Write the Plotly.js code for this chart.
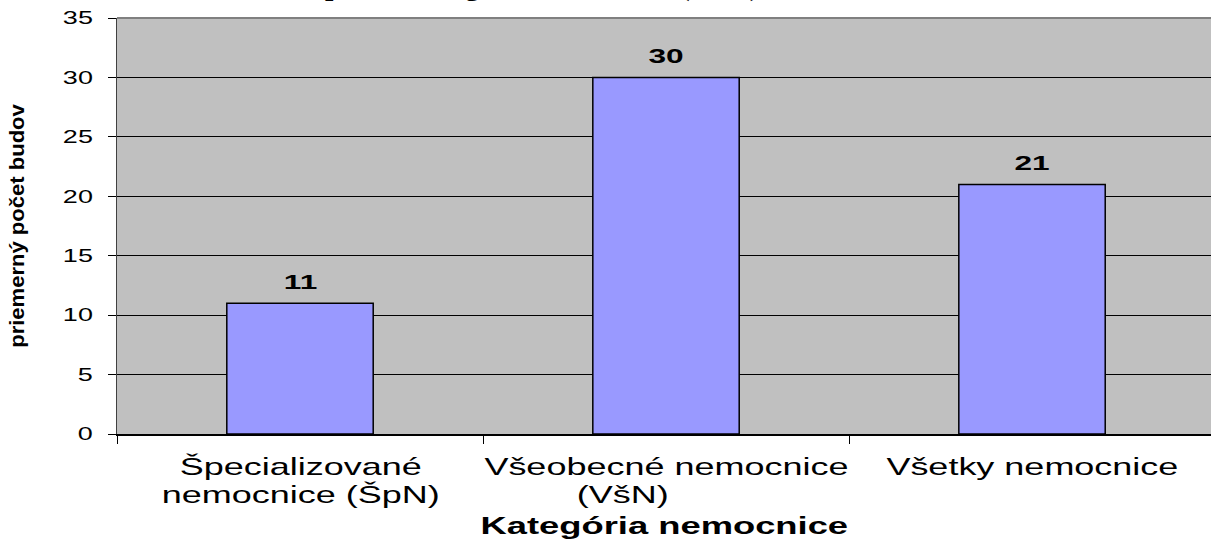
<!DOCTYPE html>
<html><head><meta charset="utf-8">
<script src="https://cdn.plot.ly/plotly-3.0.1.min.js"></script>
<style>html,body{margin:0;padding:0;background:#fff}#chart{width:1211px;height:542px}</style>
</head><body><div id="chart"></div>
<script>
const categories = ["Špecializované nemocnice (ŠpN)", "Všeobecné nemocnice (VšN)", "Všetky nemocnice"];
const tickLines1 = ["Špecializované", "Všeobecné nemocnice", "Všetky nemocnice"];
const tickLines2 = ["nemocnice (ŠpN)", "(VšN)", ""];
const values = [11, 30, 21];
const chartTitle = "Počet budov podľa kategórie nemocnice (2005)";
const xTitle = "Kategória nemocnice";
const yTitle = "priemerný počet budov";

const SANS = "Liberation Sans, Arial, sans-serif";
const STRETCH = 1.5, STRETCH_BOLD = 1.58;

const trace = {
  type: "bar",
  x: categories,
  y: values,
  width: 0.4,
  marker: {color: "#9999FF", line: {color: "#000000", width: 1.5}},
  hoverinfo: "none"
};

const annotations = [];
const stretchMap = [];
values.forEach((v, i) => {
  annotations.push({
    x: categories[i], y: v, xref: "x", yref: "y",
    text: "<b>" + v + "</b>", showarrow: false,
    yanchor: "bottom", yshift: 8,
    font: {family: SANS, size: 20, color: "#000"}
  });
  stretchMap.push(STRETCH_BOLD);
  annotations.push({
    x: categories[i], y: 0, xref: "x", yref: "paper",
    text: tickLines1[i], showarrow: false,
    yanchor: "top", yshift: -17,
    font: {family: SANS, size: 24, color: "#000"}
  });
  stretchMap.push(STRETCH);
  if (tickLines2[i]) {
    annotations.push({
      x: categories[i], y: 0, xref: "x", yref: "paper",
      text: tickLines2[i], showarrow: false,
      yanchor: "top", yshift: -45, xshift: (i === 1 ? -44 : 0),
      font: {family: SANS, size: 24, color: "#000"}
    });
    stretchMap.push(STRETCH);
  }
});
annotations.push({
  x: 0.5, y: 0, xref: "paper", yref: "paper",
  text: "<b>" + xTitle + "</b>", showarrow: false,
  yanchor: "top", yshift: -77,
  font: {family: SANS, size: 23, color: "#000"}
});
stretchMap.push(STRETCH_BOLD);
annotations.push({
  x: 0.59, y: 1, xref: "paper", yref: "paper", xanchor: "right", yanchor: "bottom",
  yshift: 14, text: "<b>" + chartTitle + "</b>", showarrow: false,
  font: {family: "Liberation Serif, Times New Roman, serif", size: 30, color: "#000"}
});
stretchMap.push(1);

const layout = {
  width: 1211, height: 542,
  margin: {l: 117, r: 0, t: 18, b: 108, pad: 0},
  paper_bgcolor: "#ffffff",
  plot_bgcolor: "#C0C0C0",
  showlegend: false,
  bargap: 0.6,
  xaxis: {
    type: "category",
    range: [-0.5, 2.489],
    showticklabels: false,
    ticks: "outside", ticklen: 8, tickcolor: "#000", tickwidth: 1,
    tickson: "boundaries",
    showgrid: false, zeroline: false,
    showline: true, linecolor: "#000", linewidth: 1.5,
    automargin: false, fixedrange: true
  },
  yaxis: {
    range: [0, 35], dtick: 5, tick0: 0,
    ticks: "outside", ticklen: 8, tickcolor: "#000", tickwidth: 1,
    ticklabelstandoff: 11,
    showgrid: true, gridcolor: "#000", gridwidth: 1,
    zeroline: false,
    showline: true, linecolor: "#404040", linewidth: 1.5,
    tickfont: {family: SANS, size: 18, color: "#000"},
    title: {text: "<b>" + yTitle + "</b>", standoff: 42,
      font: {family: SANS, size: 21, color: "#000"}},
    automargin: false, fixedrange: true
  },
  shapes: [
    {type: "line", xref: "paper", yref: "paper", x0: 0, x1: 1, y0: 1, y1: 1,
     line: {color: "#808080", width: 2}}
  ],
  annotations: annotations
};

function stretchText(el, s, anchor) {
  if (s === 1) return;
  const b = el.getBBox();
  const cx = anchor === "end" ? b.x + b.width : b.x + b.width / 2;
  const orig = el.getAttribute("transform") || "";
  el.setAttribute("transform", orig + " translate(" + cx + ",0) scale(" + s + ",1) translate(" + (-cx) + ",0)");
}

Plotly.newPlot("chart", [trace], layout, {displayModeBar: false, staticPlot: true}).then(gd => {
  gd.querySelectorAll(".ytick text").forEach(t => stretchText(t, STRETCH, "end"));
  const yt = gd.querySelector("text.ytitle");
  if (yt) stretchText(yt, 1.05, "middle");
  gd.querySelectorAll("g.annotation").forEach(g => {
    const idx = +g.getAttribute("data-index");
    const t = g.querySelector("text.annotation-text");
    if (t && stretchMap[idx] !== undefined) stretchText(t, stretchMap[idx], "middle");
  });
});
</script>
</body></html>
